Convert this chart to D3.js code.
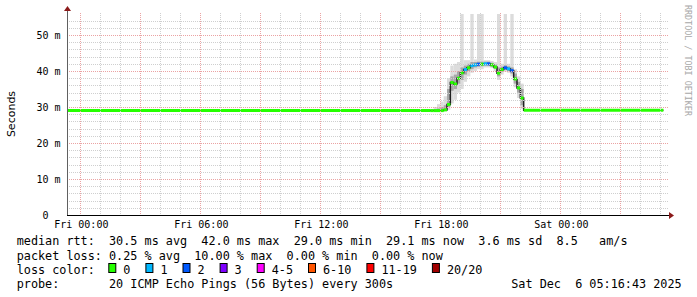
<!DOCTYPE html>
<html>
<head>
<meta charset="utf-8">
<script src="https://cdn.jsdelivr.net/npm/d3@7"></script>
<style>
  html, body { margin: 0; padding: 0; background: #fff; }
  svg { display: block; }
  text { font-family: "DejaVu Sans Mono", monospace; }
</style>
</head>
<body>
<script>
// start of each step, in hours after Fri 00:00 (flat stretches are one long step)
const stepHours = [-2 / 3, 17.5, 17.667, 17.833, 18, 18.167, 18.333, 18.5, 18.667, 18.833,
  19, 19.167, 19.333, 19.5, 19.667, 19.833, 20, 20.167, 20.333, 20.5,
  20.667, 20.833, 21, 21.167, 21.333, 21.5, 21.667, 21.833, 22, 22.167];
const lastHour = 29.15;

// median rtt (ms)
const medianMs = [29.0, 29.0, 29.0, 29.0, 29.0, 29.2, 30.7, 36.8, 36.4, 38.0,
  39.5, 40.4, 40.9, 41.5, 41.7, 41.9, 41.9, 42.0, 42.0, 41.7,
  41.1, 39.4, 40.4, 40.9, 40.6, 40.1, 37.8, 35.3, 32.5, 29.1];
// lost pings out of 20
const lossCount = [0, 0, 0, 0, 0, 0, 0, 0, 0, 0,
  0, 1, 0, 1, 1, 2, 0, 1, 2, 0,
  0, 0, 0, 2, 1, 2, 0, 0, 0, 0];
// smoke: full ping spread and inner spread (ms)
const smokeMin = [28.9, 28.9, 28.9, 28.9, 28.9, 29.0, 29.2, 31.0, 32.0, 34.0,
  35.0, 37.0, 38.5, 39.5, 40.0, 40.5, 40.5, 41.0, 41.0, 40.8,
  40.0, 37.5, 39.0, 39.8, 39.5, 38.5, 35.5, 32.5, 29.5, 28.9];
const smokeMax = [29.2, 29.3, 30.0, 30.8, 31.5, 33.0, 38.0, 41.5, 42.0, 42.5,
  60, 43.0, 43.0, 60, 43.2, 60, 60, 43.0, 43.0, 42.8,
  42.5, 60, 42.0, 60, 42.0, 60, 40.5, 38.5, 36.5, 29.4];
const coreMin = [29.0, 29.0, 29.0, 29.0, 29.0, 29.1, 30.0, 34.5, 35.0, 36.5,
  37.5, 39.0, 40.0, 40.5, 41.0, 41.2, 41.3, 41.5, 41.5, 41.2,
  40.6, 38.5, 39.8, 40.3, 40.0, 39.3, 36.5, 34.0, 30.5, 29.0];
const coreMax = [29.1, 29.1, 29.3, 29.6, 30.0, 30.5, 35.0, 38.5, 39.0, 40.0,
  41.0, 41.5, 42.0, 42.5, 42.5, 42.6, 42.6, 42.6, 42.6, 42.3,
  41.8, 41.0, 41.2, 41.6, 41.3, 41.0, 39.3, 37.0, 35.0, 29.2];

// loss legend
const lossLabels = ["0", "1", "2", "3", "4-5", "6-10", "11-19", "20/20"];
const lossUpper = [0, 1, 2, 3, 5, 10, 19, 20];
const lossColors = ["#26ff00", "#00b8ff", "#0059ff", "#7e00ff", "#ff00ff", "#ff5500", "#ff0000", "#a00000"];

const legendLines = [
  "median rtt:  30.5 ms avg  42.0 ms max  29.0 ms min  29.1 ms now  3.6 ms sd  8.5   am/s",
  "packet loss: 0.25 % avg  10.00 % max  0.00 % min  0.00 % now",
  "loss color:",
  "probe:       20 ICMP Echo Pings (56 Bytes) every 300s",
];
const stampText = "Sat Dec  6 05:16:43 2025";

const W = 697, H = 297;
const plot = { left: 67, right: 667, top: 15, bottom: 215 };

const fri0 = new Date(2025, 11, 5, 0, 0, 0);
const toDate = (h) => new Date(fri0.getTime() + h * 3600e3);

const x = d3.scaleTime()
  .domain([toDate(-2 / 3), toDate(29 + 1 / 3)])
  .range([plot.left, plot.right]);
const y = d3.scaleLinear()
  .domain([0, (plot.bottom - plot.top) / 3.6])
  .range([plot.bottom, plot.top]);

const svg = d3.select("body").append("svg").attr("width", W).attr("height", H);

svg.append("defs").append("clipPath").attr("id", "plotclip")
  .append("rect")
  .attr("x", plot.left).attr("y", plot.top - 1)
  .attr("width", plot.right - plot.left + 1).attr("height", plot.bottom - plot.top + 1);

const steps = stepHours.map((h, i) => ({
  t0: toDate(h),
  t1: toDate(i + 1 < stepHours.length ? stepHours[i + 1] : lastHour),
  med: medianMs[i],
  loss: lossCount[i],
  sMin: smokeMin[i], sMax: smokeMax[i],
  cMin: coreMin[i], cMax: coreMax[i],
}));

const g = svg.append("g").attr("clip-path", "url(#plotclip)");

// smoke
g.selectAll(".smoke-out").data(steps).enter().append("rect")
  .attr("x", (d) => x(d.t0)).attr("width", (d) => x(d.t1) - x(d.t0))
  .attr("y", (d) => y(d.sMax)).attr("height", (d) => y(d.sMin) - y(d.sMax))
  .attr("fill", "#dcdcdc");
g.selectAll(".smoke-in").data(steps).enter().append("rect")
  .attr("x", (d) => x(d.t0)).attr("width", (d) => x(d.t1) - x(d.t0))
  .attr("y", (d) => y(d.cMax)).attr("height", (d) => y(d.cMin) - y(d.cMax))
  .attr("fill", "#a8a8a8");

// grid
const crisp = (v) => Math.round(v) + 0.5;
const grid = svg.append("g");
const minorY = d3.range(2, 56, 2).filter((v) => v % 10 !== 0);
const majorY = y.ticks(5).filter((v) => v > 0);
grid.selectAll(".hminor").data(minorY).enter().append("line")
  .attr("x1", plot.left).attr("x2", plot.right + 2)
  .attr("y1", (d) => crisp(y(d))).attr("y2", (d) => crisp(y(d)))
  .attr("stroke", "#cfcfcf").attr("stroke-dasharray", "1,1");
const hours = x.ticks(d3.timeHour.every(1));
const hoursMajor = x.ticks(d3.timeHour.every(3));
grid.selectAll(".vminor").data(hours).enter().append("line")
  .attr("x1", (d) => crisp(x(d))).attr("x2", (d) => crisp(x(d)))
  .attr("y1", plot.top - 2).attr("y2", plot.bottom)
  .attr("stroke", "#cfcfcf").attr("stroke-dasharray", "1,1");
grid.selectAll(".hmajor").data(majorY).enter().append("line")
  .attr("x1", plot.left).attr("x2", plot.right + 2)
  .attr("y1", (d) => crisp(y(d))).attr("y2", (d) => crisp(y(d)))
  .attr("stroke", "#eba3a3").attr("stroke-dasharray", "1,1");
grid.selectAll(".vmajor").data(hoursMajor).enter().append("line")
  .attr("x1", (d) => crisp(x(d))).attr("x2", (d) => crisp(x(d)))
  .attr("y1", plot.top - 2).attr("y2", plot.bottom)
  .attr("stroke", "#eba3a3").attr("stroke-dasharray", "1,1");

// median: dark joining line, then coloured by loss
const medLine = d3.line().x((d) => x(d[0])).y((d) => y(d[1])).curve(d3.curveStepAfter);
const medPts = steps.map((d) => [d.t0, d.med]);
medPts.push([steps[steps.length - 1].t1, steps[steps.length - 1].med]);
g.append("path").attr("d", medLine(medPts))
  .attr("fill", "none").attr("stroke", "#202020").attr("stroke-width", 1.5);

const lossClass = (n) => lossUpper.findIndex((u) => n <= u);
g.selectAll(".med").data(steps).enter().append("line")
  .attr("x1", (d) => x(d.t0)).attr("x2", (d) => x(d.t1))
  .attr("y1", (d) => y(d.med)).attr("y2", (d) => y(d.med))
  .attr("stroke", (d) => lossColors[lossClass(d.loss)])
  .attr("stroke-width", 3);

// axes
svg.append("line")
  .attr("x1", plot.left + 0.5).attr("x2", plot.left + 0.5)
  .attr("y1", plot.bottom).attr("y2", plot.top - 5)
  .attr("stroke", "#606060");
svg.append("line")
  .attr("x1", plot.left).attr("x2", plot.right + 3)
  .attr("y1", plot.bottom + 0.5).attr("y2", plot.bottom + 0.5)
  .attr("stroke", "#000");
svg.append("path")
  .attr("d", `M${plot.left + 0.5},${plot.top - 9} l-3.5,5 h7 z`)
  .attr("fill", "#8b1a1a");
svg.append("path")
  .attr("d", `M${plot.right + 7},${plot.bottom + 0.5} l-5,-3.5 v7 z`)
  .attr("fill", "#8b1a1a");

// y labels
svg.selectAll(".ylab").data(y.ticks(5)).enter().append("text")
  .attr("x", (d) => (d === 0 ? 48.5 : 60.5))
  .attr("y", (d) => y(d) + 3.5)
  .attr("text-anchor", "end")
  .style("font-size", "10px")
  .attr("fill", "#000")
  .text((d) => (d === 0 ? "0" : `${d} m`));

// x labels
svg.selectAll(".xlab").data(x.ticks(d3.timeHour.every(6))).enter().append("text")
  .attr("x", (d) => x(d) + 1)
  .attr("y", 228)
  .attr("text-anchor", "middle")
  .style("font-size", "10px")
  .attr("fill", "#000")
  .text(d3.timeFormat("%a %H:%M"));

// y title
svg.append("text")
  .attr("transform", "translate(14.5,114) rotate(-90)")
  .attr("text-anchor", "middle")
  .style("font-family", "'DejaVu Sans', sans-serif")
  .style("font-size", "11px")
  .attr("fill", "#000")
  .text("Seconds");

// watermark
svg.append("text")
  .attr("transform", "translate(685,5) rotate(90)")
  .style("font-size", "8.4px")
  .attr("fill", "#a8a8a8")
  .text("RRDTOOL / TOBI OETIKER");

// legend
const legendFont = 11.8;
const charW = 7.1;
const baselines = [245.3, 259.5, 273.7, 287.9];
svg.selectAll(".leg").data(legendLines).enter().append("text")
  .attr("x", 16.7)
  .attr("y", (d, i) => baselines[i])
  .style("font-size", legendFont + "px")
  .style("white-space", "pre")
  .attr("fill", "#000")
  .text((d) => d);

svg.append("text")
  .attr("x", 681.7).attr("y", baselines[3])
  .attr("text-anchor", "end")
  .style("font-size", legendFont + "px")
  .style("white-space", "pre")
  .attr("fill", "#000")
  .text(stampText);

let lx = 108.3;
lossLabels.forEach((lab, i) => {
  svg.append("rect")
    .attr("x", lx + 0.5).attr("y", 263.5)
    .attr("width", 7).attr("height", 9)
    .attr("fill", lossColors[i]).attr("stroke", "#000");
  svg.append("text")
    .attr("x", lx + 15).attr("y", baselines[2])
    .style("font-size", legendFont + "px")
    .attr("fill", "#000")
    .text(lab);
  lx = lx + 15 + lab.length * charW + 15;
});
</script>
</body>
</html>
